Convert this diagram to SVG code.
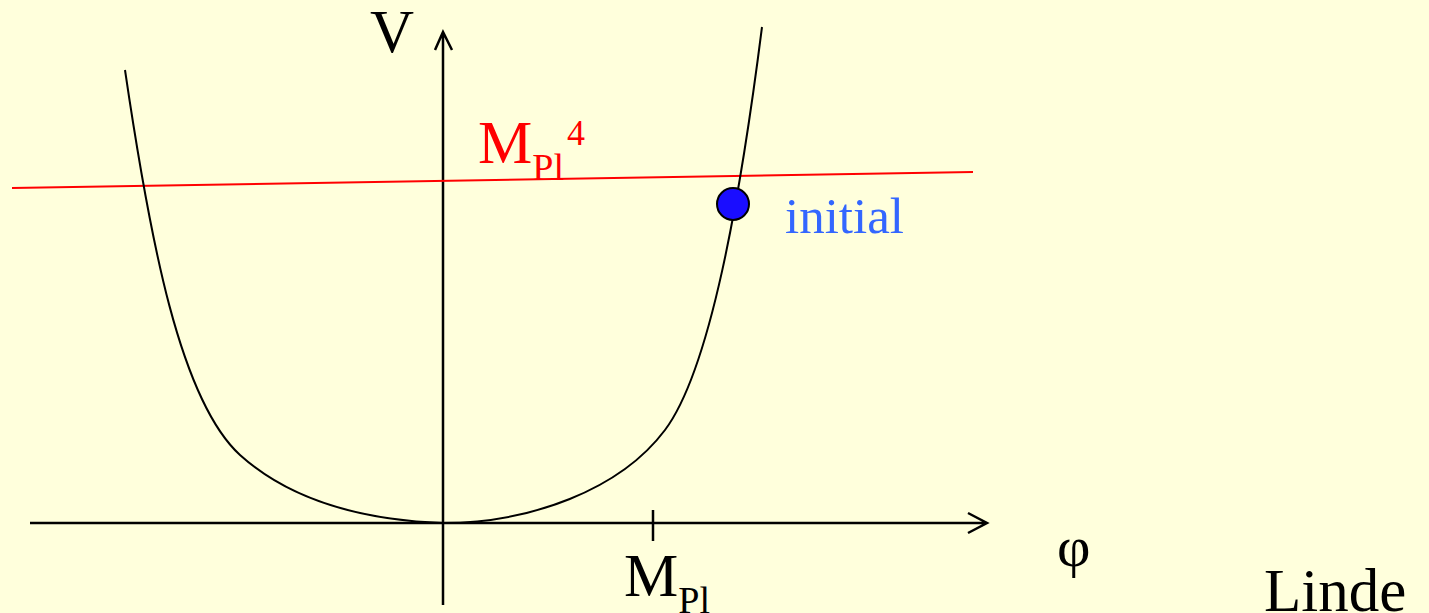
<svg xmlns="http://www.w3.org/2000/svg" width="1429" height="613" viewBox="0 0 1429 613">
<style>
.ax{stroke:#000;stroke-width:2.5;fill:none}
.t{font-family:"Liberation Serif","Times New Roman",serif}
</style>
<rect width="1429" height="613" fill="#FFFFDC"/>
<g id="connectors">
<path class="ax" d="M443,605 V32 M435,50 L443,32 L452,50"/>
<path class="ax" d="M30,523 H987 M968,513 L987,523 L968,533"/>
<path class="ax" d="M653,510 V541" stroke-width="2"/>
<path d="M12,188 L973,172" stroke="#FF0000" stroke-width="2" fill="none"/>
<path d="M125,70 C150,240 180,400 240,455 C290,500 360,520 443,523 C530,523 620,490 665,430 C710,370 740,200 762,27" stroke="#000" stroke-width="2" fill="none"/>
</g>
<g id="initial">
<circle cx="733" cy="204" r="16" fill="#1A0DFF" stroke="#000" stroke-width="2"/>
<text class="t" x="785" y="233" font-size="51" fill="#3366FF">initial</text>
</g>
<g id="labels">
<text class="t" x="370" y="52" font-size="61">V</text>
<text class="t" x="478" y="163" font-size="61" fill="#FF0000">M<tspan font-size="38" dy="17">Pl</tspan><tspan font-size="36" dx="3" dy="-35">4</tspan></text>
<text class="t" x="624" y="596" font-size="61">M<tspan font-size="38" dy="17">Pl</tspan></text>
<text class="t" x="1057" y="566" font-size="58">φ</text>
<text class="t" x="1264" y="611" font-size="61">Linde</text>
</g>
</svg>
